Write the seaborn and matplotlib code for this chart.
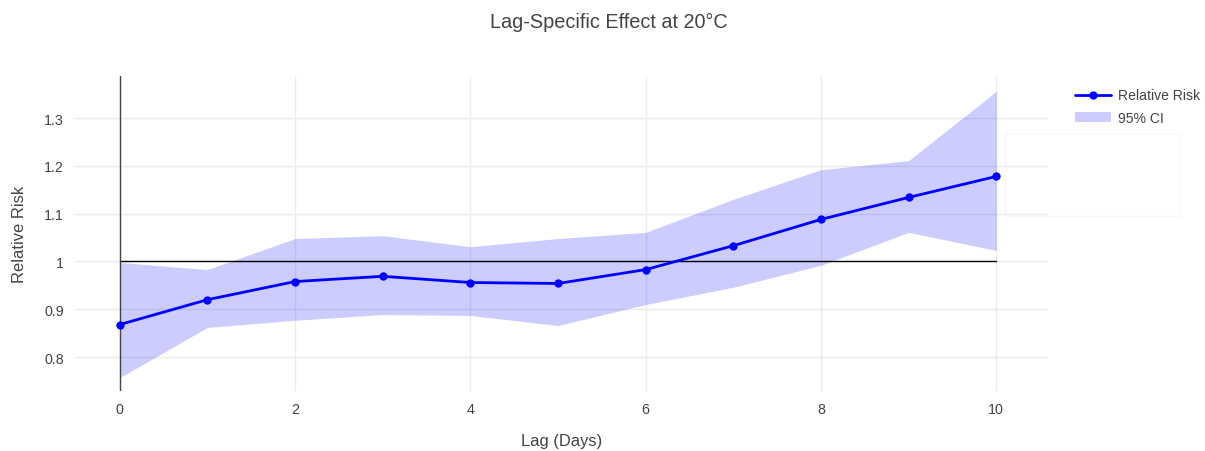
import matplotlib
matplotlib.use("Agg")
import matplotlib.pyplot as plt
import seaborn as sns
import pandas as pd
from matplotlib.lines import Line2D
from matplotlib.patches import Patch, Rectangle

# lag-specific relative risk at 20°C
lags = [0, 1, 2, 3, 4, 5, 6, 7, 8, 9, 10]
rr = [0.868, 0.920, 0.958, 0.969, 0.956, 0.954, 0.983, 1.033, 1.088, 1.134, 1.178]
ci_low = [0.757, 0.862, 0.877, 0.889, 0.887, 0.866, 0.910, 0.946, 0.992, 1.061, 1.023]
ci_high = [0.998, 0.983, 1.048, 1.054, 1.031, 1.048, 1.061, 1.130, 1.192, 1.211, 1.356]

df = pd.DataFrame({"lag": lags, "rr": rr, "low": ci_low, "high": ci_high})

sns.set_style("white")
plt.rcParams["font.family"] = ["Liberation Sans", "DejaVu Sans"]
txt = "#444444"

fig = plt.figure(figsize=(12.05, 4.52), dpi=100)
ax = fig.add_axes([0.0622, 0.1327, 0.8075, 0.6969])

ax.fill_between(df["lag"], df["low"], df["high"], color="#0000ff", alpha=0.2,
                linewidth=0, zorder=2)
sns.lineplot(data=df, x="lag", y="rr", color="#0000ff", marker="o", markersize=6,
             markeredgewidth=0, linewidth=2, ax=ax, zorder=4)

# reference line at RR = 1 and the x zero line
ax.plot([lags[0], lags[-1]], [1, 1], color="black", linewidth=1, zorder=3)
ax.axvline(0, color="#444444", linewidth=1, zorder=3)

ax.set_xlim(-0.51, 10.59)
ax.set_ylim(0.729, 1.388)
ax.set_xticks([0, 2, 4, 6, 8, 10])
ax.set_yticks([0.8, 0.9, 1.0, 1.1, 1.2, 1.3])
ax.set_yticklabels(["0.8", "0.9", "1", "1.1", "1.2", "1.3"])
ax.grid(True, color="#ebebeb", linewidth=1)
ax.set_axisbelow(True)
for s in ax.spines.values():
    s.set_visible(False)
ax.tick_params(length=0, labelsize=10.3, colors=txt, pad=8)

ax.set_xlabel("Lag (Days)", fontsize=11.9, color=txt, labelpad=12)
ax.set_ylabel("Relative Risk", fontsize=11.9, color=txt, labelpad=12)
fig.text(0.505, 0.951, "Lag-Specific Effect at 20°C", fontsize=14.3, color=txt,
         ha="center", va="center")

handles = [
    Line2D([0], [0], color="#0000ff", linewidth=2, marker="o", markersize=5),
    Patch(facecolor="#0000ff", alpha=0.2, edgecolor="none"),
]
fig.legend(handles, ["Relative Risk", "95% CI"], loc="upper left",
           bbox_to_anchor=(0.8815, 0.83), frameon=False, fontsize=10.1,
           labelcolor=txt, handlelength=2.6, handletextpad=0.5, labelspacing=0.6)

# faint empty box right of the plot
fig.patches.append(Rectangle((1005 / 1205, 1 - 217 / 452), 175 / 1205, 82 / 452,
                             transform=fig.transFigure, fill=False,
                             edgecolor="#f6f6f6", linewidth=0.8))

fig.savefig("out.png", dpi=100)
